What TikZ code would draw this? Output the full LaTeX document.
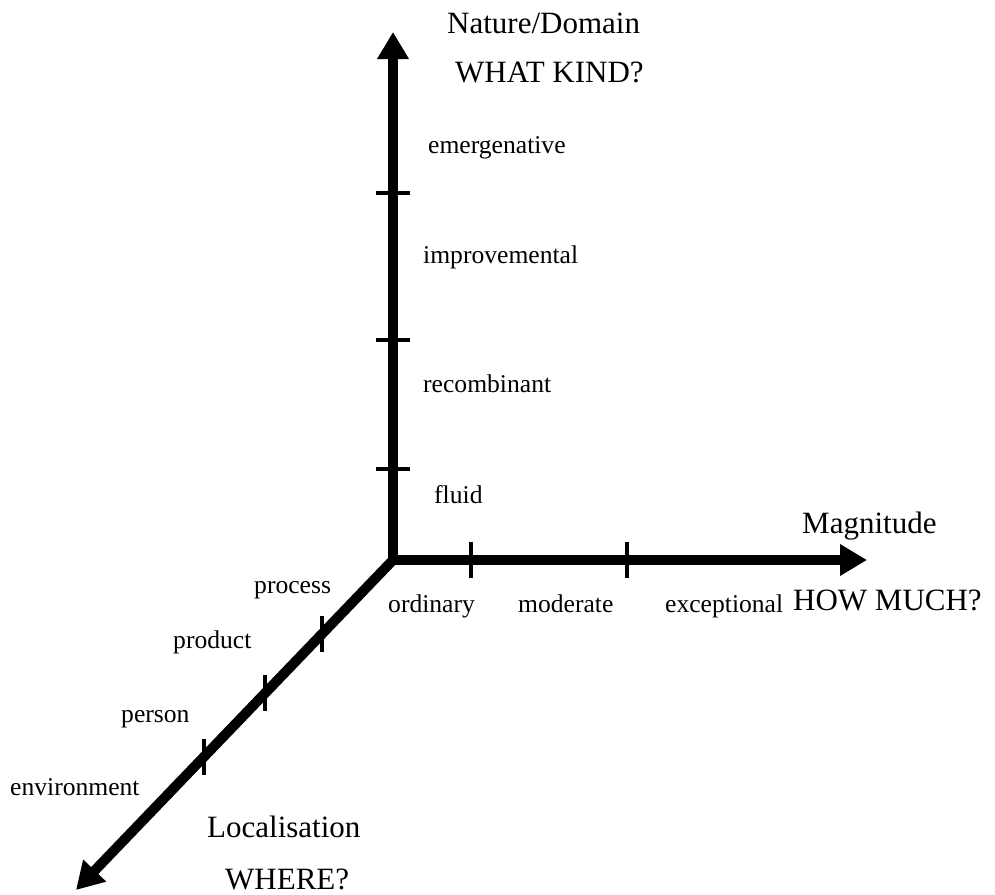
\documentclass[tikz,border=0pt]{standalone}
\usepackage{fontspec}
\setmainfont{Liberation Serif}
\usetikzlibrary{arrows.meta,calc}
\tikzset{
  axis/.style={line width=10pt, -{Triangle[length=27pt,width=30pt]}},
  tickmark/.style={line width=4.5pt},
  big/.style={inner sep=0pt, anchor=base west, font=\fontsize{31}{36}\selectfont},
  small/.style={inner sep=0pt, anchor=base west, font=\fontsize{25.6}{30}\selectfont},
}
\begin{document}
\begin{tikzpicture}[x=1pt,y=-1pt]
\useasboundingbox (0,0) rectangle (995,894);
\coordinate (O) at (393,560);
\coordinate (ytip) at (393,32);
\coordinate (xtip) at (867,560);
\coordinate (ztip) at (76,890);
% axes
\draw[axis] (O) -- (ytip);
\draw[axis] (O) -- (xtip);
\draw[axis] (O) -- (ztip);
\fill (O) circle (5pt);
% ticks on vertical axis
\foreach \yy/\nm in {193/ya,340/yb,469/yc}{
  \coordinate (\nm) at (393,\yy);
  \draw[tickmark] ($(\nm)+(-17,0)$) -- ($(\nm)+(17,0)$);
}
% ticks on horizontal axis
\foreach \xx/\nm in {471/xa,627/xb}{
  \coordinate (\nm) at (\xx,560);
  \draw[tickmark] ($(\nm)+(0,-18)$) -- ($(\nm)+(0,18)$);
}
% ticks on diagonal axis
\foreach \tt/\nm in {0.224/za,0.404/zb,0.596/zc}{
  \coordinate (\nm) at ($(O)!\tt!(ztip)$);
  \draw[tickmark] ($(\nm)+(0,-18)$) -- ($(\nm)+(0,18)$);
}
% labels
\node[big] (ln) at (447,33) {Nature/Domain};
\node[big] (lw) at (455,82) {WHAT KIND?};
\node[small] (l1) at (428,153) {emergenative};
\node[small] (l2) at (423,263) {improvemental};
\node[small] (l3) at (423,392) {recombinant};
\node[small] (l4) at (434,503) {fluid};
\node[big] (lm) at (802,533) {Magnitude};
\node[big] (lh) at (793,610) {HOW MUCH?};
\node[small] (m1) at (388,612) {ordinary};
\node[small] (m2) at (518,612) {moderate};
\node[small] (m3) at (665,612) {exceptional};
\node[small] (p1) at (254,593) {process};
\node[small] (p2) at (173,648) {product};
\node[small] (p3) at (121,722) {person};
\node[small] (p4) at (10,795) {environment};
\node[big] (ll) at (207,837) {Localisation};
\node[big] (lwh) at (225,889) {WHERE?};
\end{tikzpicture}
\end{document}
